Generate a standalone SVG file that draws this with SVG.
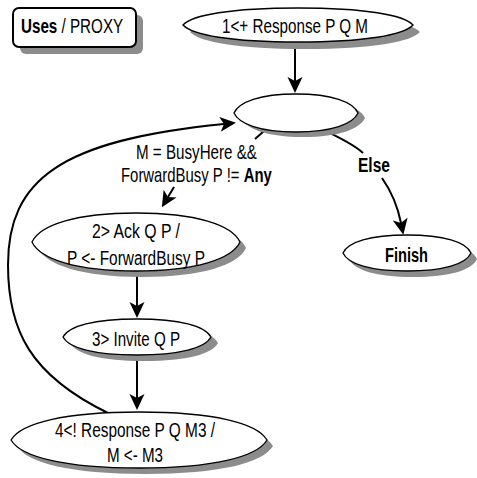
<svg xmlns="http://www.w3.org/2000/svg" width="477" height="478" viewBox="0 0 477 478">
  <style>
    .shadow { fill: #8c8c8c; stroke: none; }
    .node { fill: #ffffff; stroke: #000000; stroke-width: 1.3; }
    .edge { fill: none; stroke: #000000; stroke-width: 2; }
    .lbl { font-family: "Liberation Sans", Arial, sans-serif; font-size: 20px; fill: #000000; }
    .b { font-weight: bold; }
  </style>
  <defs>
    <marker id="arrow" markerUnits="userSpaceOnUse" viewBox="0 -8 16 16" refX="4" refY="0" markerWidth="16" markerHeight="16" orient="auto">
      <path d="M16,0 L0,-7.5 L4,0 L0,7.5 Z" fill="#000000"/>
    </marker>
  </defs>

  <!-- title box -->
  <g id="title">
    <rect class="shadow" x="20" y="15" width="123" height="39" rx="6"/>
    <rect x="13" y="8" width="123" height="39" rx="6" fill="#ffffff" stroke="#000000" stroke-width="2"/>
    <text class="lbl" transform="translate(21,33) scale(0.76,1)"><tspan class="b">Uses</tspan> / PROXY</text>
  </g>

  <!-- connectors -->
  <g id="edges">
    <path class="edge" d="M295,43 L295,81" marker-end="url(#arrow)"/>
    <path class="edge" d="M264,131 L255,139"/>
    <path class="edge" d="M174,187 L168,197" marker-end="url(#arrow)"/>
    <path class="edge" d="M328,132 C340,138 355,145 363,153"/>
    <path class="edge" d="M382,178 Q396,198 401,223" marker-end="url(#arrow)"/>
    <path class="edge" d="M137,272 L137,306" marker-end="url(#arrow)"/>
    <path class="edge" d="M137,357 L137,398" marker-end="url(#arrow)"/>
    <path class="edge" d="M108,413 C30,375 8,330 8,265 C8,180 60,140 224,124" marker-end="url(#arrow)"/>
  </g>

  <!-- edge labels -->
  <g id="edge-labels">
    <text class="lbl" x="136" y="159" textLength="121" lengthAdjust="spacingAndGlyphs">M = BusyHere &amp;&amp;</text>
    <text class="lbl" transform="translate(121,182) scale(0.745,1)">ForwardBusy P != <tspan class="b">Any</tspan></text>
    <text class="lbl b" x="358" y="172" textLength="32" lengthAdjust="spacingAndGlyphs">Else</text>
  </g>

  <!-- 1<+ Response P Q M : cx 298 cy 25 rx 115 ry 17 -->
  <g id="n1">
    <path class="shadow" transform="translate(7,7)" d="M183,25 C192,15 231,8 298,8 C365,8 404,15 413,25 C404,35 365,42 298,42 C231,42 192,35 183,25 Z"/>
    <path class="node" d="M183,25 C192,15 231,8 298,8 C365,8 404,15 413,25 C404,35 365,42 298,42 C231,42 192,35 183,25 Z"/>
    <text class="lbl" x="222" y="33" textLength="146" lengthAdjust="spacingAndGlyphs">1&lt;+ Response P Q M</text>
  </g>

  <!-- choice point : cx 296 cy 113 rx 62 ry 19 -->
  <g id="n0">
    <path class="shadow" transform="translate(7,5)" d="M234,113 C239,102 260,94 296,94 C332,94 353,102 358,113 C353,124 332,132 296,132 C260,132 239,124 234,113 Z"/>
    <path class="node" d="M234,113 C239,102 260,94 296,94 C332,94 353,102 358,113 C353,124 332,132 296,132 C260,132 239,124 234,113 Z"/>
  </g>

  <!-- Finish : cx 407 cy 253 rx 64 ry 18 -->
  <g id="finish">
    <path class="shadow" transform="translate(6,6)" d="M343,253 C348,242 370,235 407,235 C444,235 466,242 471,253 C466,264 444,271 407,271 C370,271 348,264 343,253 Z"/>
    <path class="node" d="M343,253 C348,242 370,235 407,235 C444,235 466,242 471,253 C466,264 444,271 407,271 C370,271 348,264 343,253 Z"/>
    <text class="lbl b" x="385" y="262" textLength="43" lengthAdjust="spacingAndGlyphs">Finish</text>
  </g>

  <!-- 2> Ack Q P : cx 136 cy 242 rx 104 ry 29 -->
  <g id="n2">
    <path class="shadow" transform="translate(6,6)" d="M32,242 C40,225 76,213 136,213 C196,213 232,225 240,242 C232,259 196,271 136,271 C76,271 40,259 32,242 Z"/>
    <path class="node" d="M32,242 C40,225 76,213 136,213 C196,213 232,225 240,242 C232,259 196,271 136,271 C76,271 40,259 32,242 Z"/>
    <text class="lbl" x="92" y="238" textLength="88" lengthAdjust="spacingAndGlyphs">2&gt; Ack Q P /</text>
    <text class="lbl" x="67" y="265" textLength="138" lengthAdjust="spacingAndGlyphs">P &lt;- ForwardBusy P</text>
  </g>

  <!-- 3> Invite Q P : cx 137 cy 337 rx 74 ry 18 -->
  <g id="n3">
    <path class="shadow" transform="translate(7,6)" d="M63,337 C69,326 94,319 137,319 C180,319 205,326 211,337 C205,348 180,355 137,355 C94,355 69,348 63,337 Z"/>
    <path class="node" d="M63,337 C69,326 94,319 137,319 C180,319 205,326 211,337 C205,348 180,355 137,355 C94,355 69,348 63,337 Z"/>
    <text class="lbl" x="92" y="346" textLength="88" lengthAdjust="spacingAndGlyphs">3&gt; Invite Q P</text>
  </g>

  <!-- 4<! Response P Q M3 : cx 139 cy 440 rx 128 ry 28 -->
  <g id="n4">
    <path class="shadow" transform="translate(6,6)" d="M11,440 C21,423 65,412 139,412 C213,412 257,423 267,440 C257,457 213,468 139,468 C65,468 21,457 11,440 Z"/>
    <path class="node" d="M11,440 C21,423 65,412 139,412 C213,412 257,423 267,440 C257,457 213,468 139,468 C65,468 21,457 11,440 Z"/>
    <text class="lbl" x="55" y="437" textLength="160" lengthAdjust="spacingAndGlyphs">4&lt;! Response P Q M3 /</text>
    <text class="lbl" x="107" y="462" textLength="56" lengthAdjust="spacingAndGlyphs">M &lt;- M3</text>
  </g>
</svg>
